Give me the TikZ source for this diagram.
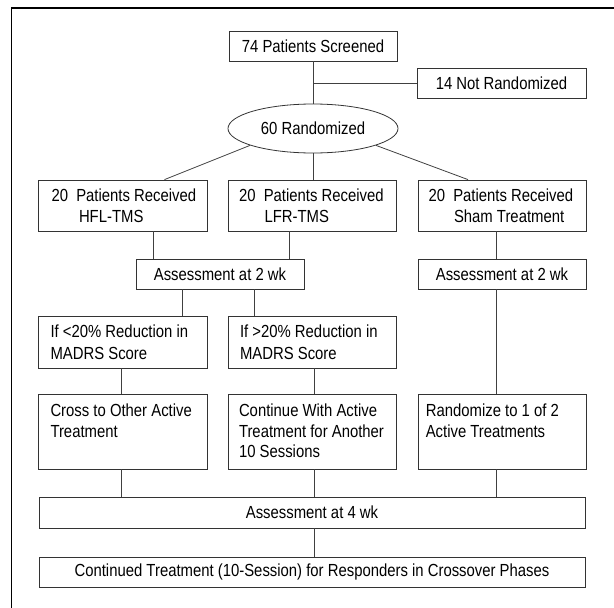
\documentclass[tikz,border=0pt]{standalone}
\usepackage{fontspec}
\setmainfont[FakeStretch=0.85]{Liberation Sans}
\usetikzlibrary{calc}
\usetikzlibrary{shapes.geometric}

\newcommand{\inbox}[1]{\parbox{158pt}{\raggedright#1}}
\newcommand{\topalign}[1]{\parbox[c][55pt][t]{158pt}{\raggedright#1}}
\newcommand{\ind}[2]{\mbox{\hspace{#1}#2}}

\begin{document}
\hyphenpenalty=10000
\begin{tikzpicture}[x=1pt,y=-1pt,
  font=\fontsize{17.5}{20.5}\selectfont,
  box/.style={draw=black!80, line width=0.8pt, minimum width=#1, minimum height=30, inner xsep=5, inner ysep=4},
  box/.default=168,
  link/.style={draw=black!75, line width=0.8pt}]
\useasboundingbox (0,0) rectangle (614,608);
\draw[line width=1.2pt] (614,8) -- (11.7,8) -- (11.7,608);

\node[box] (screen) at (313,46) {74 Patients Screened};
\node[box=169] (notrand) at (501.5,83.5) {14 Not Randomized};
\node[draw=black!80, line width=0.8pt, ellipse, minimum width=170, minimum height=49, inner sep=0] (rand) at (313,128.5) {60 Randomized};

\node[box=169, minimum height=51] (hfl) at (123,205.5) {\inbox{\ind{7.5pt}{20\ \ Patients Received}\\\ind{35pt}{HFL-TMS}}};
\node[box, minimum height=51] (lfr) at (312.5,205.5) {\inbox{\ind{5.5pt}{20\ \ Patients Received}\\\ind{31pt}{LFR-TMS}}};
\node[box, minimum height=51] (sham) at (502,205.5) {\inbox{\ind{5.5pt}{20\ \ Patients Received}\\\ind{31pt}{Sham Treatment}}};

\node[box] (ass1) at (220,274) {Assessment at 2 wk};
\node[box] (ass2) at (502,274) {Assessment at 2 wk};

\node[box=169, minimum height=52, font=\fontsize{17.5}{22}\selectfont] (less) at (123,342) {\inbox{\ind{6.5pt}{If <20\% Reduction in}\\\ind{6.5pt}{MADRS Score}}};
\node[box, minimum height=52, font=\fontsize{17.5}{22}\selectfont] (more) at (312.5,342) {\inbox{\ind{6.5pt}{If >20\% Reduction in}\\\ind{6.5pt}{MADRS Score}}};

\node[box=169, inner ysep=10] (cross) at (123,431.5) {\topalign{\ind{6.5pt}{Cross to Other Active}\\\ind{6.5pt}{Treatment}}};
\node[box, inner ysep=10] (cont) at (312.5,431.5) {\topalign{\ind{5.5pt}{Continue With Active}\\\ind{5.5pt}{Treatment for Another}\\\ind{5.5pt}{10 Sessions}}};
\node[box, inner ysep=10] (rdm) at (502,431.5) {\topalign{\ind{2.8pt}{Randomize to 1 of 2}\\\ind{2.8pt}{Active Treatments}}};

\node[box=546, minimum height=31] (ass4) at (312,512.5) {Assessment at 4 wk};
\node[box=546] (final) at (312,572) {Continued Treatment (10-Session) for Responders in Crossover Phases};

\draw[link] (screen) -- (rand);
\draw[link] (screen.south |- notrand.west) -- (notrand.west);
\draw[link] (rand.195.7) -- ($(hfl.north)+(41.5,0)$);
\draw[link] (rand.south) -- (rand.south |- lfr.north);
\draw[link] (rand.-15.8) -- ($(sham.north)+(-34,0)$);
\foreach \n/\d/\m in {hfl/30.5/ass1, lfr/-22.8/ass1, sham/-6/ass2, ass1/-38/less, ass1/34.5/more, ass2/-6/rdm,
  less/-1.6/cross, more/1.9/cont, cross/-1.6/ass4, cont/1.9/ass4, rdm/-6/ass4, ass4/2.4/final} {
 \path ($(\n.south)+(\d,0)$) coordinate (t);
 \draw[link] (t) -- (t |- \m.north);
}
\end{tikzpicture}
\end{document}
